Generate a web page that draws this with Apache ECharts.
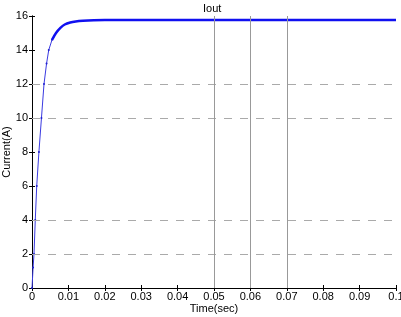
<!DOCTYPE html>
<html><head><meta charset="utf-8">
<script src="https://cdn.jsdelivr.net/npm/echarts@6/dist/echarts.min.js"></script>
<style>html,body{margin:0;padding:0;background:#fff}#c{width:401px;height:317px}</style>
</head><body><div id="c"></div>
<script>
const titleText = 'Iout';
const xName = 'Time(sec)';
const yName = 'Current(A)';
const xTicks = [0,0.01,0.02,0.03,0.04,0.05,0.06,0.07,0.08,0.09,0.1];
const yTicks = [0,2,4,6,8,10,12,14,16];
// rising part (thin)
const riseTime = [0,0.0003,0.00055,0.0009,0.0013,0.0019,0.0026,0.0033,0.004,0.0046,0.0055];
const riseCurrent = [0,1.2,2,4,6,8,10,12,13.2,14,14.6];
// settling / steady part (dense markers -> thick)
const steadyTime = [0.0055,0.0066,0.0078,0.009,0.0105,0.012,0.014,0.017,0.02,0.03,0.04,0.05,0.06,0.07,0.08,0.09,0.1];
const steadyCurrent = [14.6,15.0,15.3,15.5,15.62,15.68,15.72,15.75,15.76,15.76,15.76,15.76,15.76,15.76,15.76,15.76,15.76];
const hGrid = [2,4,10,12];
const vGrid = [0.05,0.06,0.07];

const font = 'Liberation Sans, Arial, sans-serif';
const chart = echarts.init(document.getElementById('c'));
const axisCommon = {
  axisLine:{show:true,lineStyle:{color:'#000',width:1}},
  axisTick:{show:true,inside:true,length:3,lineStyle:{color:'#000'}},
  splitLine:{show:false}
};
chart.setOption({
  animation:false,
  backgroundColor:'#fff',
  title:{text:titleText,left:198,top:-2,textStyle:{fontFamily:font,fontSize:11,fontWeight:'normal',color:'#000'}},
  grid:{left:32,right:5,top:16,bottom:29,show:false,containLabel:false,outerBoundsMode:'none'},
  xAxis:[
    Object.assign({type:'value',min:0,max:0.1,interval:0.01,position:'bottom',
      name:xName,nameLocation:'middle',nameGap:15,nameMoveOverlap:false,nameTextStyle:{fontFamily:font,fontSize:11,color:'#000'},
      axisLabel:{fontFamily:font,fontSize:11,color:'#000',margin:3,formatter:v=>String(+v.toFixed(2))}},axisCommon),
    Object.assign({type:'value',min:0,max:0.1,interval:0.01,position:'top',axisLabel:{show:false}},axisCommon)
  ],
  yAxis:[
    Object.assign({type:'value',min:0,max:16,interval:2,position:'left',
      name:yName,nameLocation:'middle',nameGap:25,nameRotate:90,nameMoveOverlap:false,nameTextStyle:{fontFamily:font,fontSize:11,color:'#000',verticalAlign:'middle'},
      axisLabel:{fontFamily:font,fontSize:11,color:'#000',margin:4}},axisCommon),
    Object.assign({type:'value',min:0,max:16,interval:2,position:'right',axisLabel:{show:false}},axisCommon)
  ],
  series:[
    {type:'line',data:[],silent:true,
      markLine:{silent:true,symbol:'none',label:{show:false},
        data:hGrid.map(v=>({yAxis:v,lineStyle:{color:'#aaa',type:[8,8],width:1}}))
          .concat(vGrid.map(v=>({xAxis:v,lineStyle:{color:'#999',type:'solid',width:1}})))}},
    {type:'line',data:riseTime.map((t,i)=>[t,riseCurrent[i]]),showSymbol:true,symbol:'circle',symbolSize:2,
      lineStyle:{color:'#3a3ae0',width:1},itemStyle:{color:'#2020d0'},z:3},
    {type:'line',data:steadyTime.map((t,i)=>[t,steadyCurrent[i]]),showSymbol:false,smooth:0.3,
      lineStyle:{color:'#1010f0',width:2.5},z:4}
  ]
});
</script></body></html>
